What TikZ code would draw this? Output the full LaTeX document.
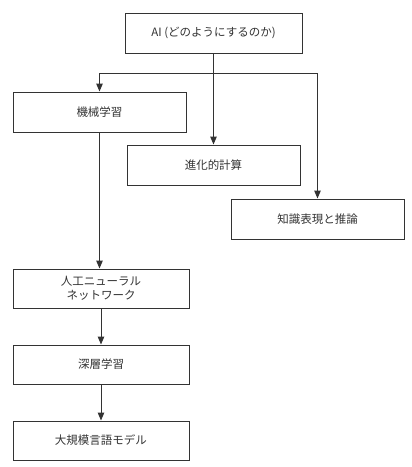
\documentclass[tikz,border=0pt]{standalone}
\usepackage{fontspec}
\newfontfamily\jpfont{Noto Sans CJK JP}
\usepackage{xcolor}
\usepackage{tikz}
\usetikzlibrary{arrows.meta, positioning}
\definecolor{inkgray}{HTML}{333333}
\tikzset{
  box/.style ={rectangle, draw=black!80, line width=1pt, fill=white,
               minimum height=40pt, minimum width=173pt, align=center,
               inner sep=2pt, text=inkgray,
               font=\jpfont\fontsize{11.5}{14}\selectfont},
  ar/.style  ={-{Triangle[length=8pt, width=6.5pt]}, line width=1pt, inkgray}
}

\begin{document}
\begin{tikzpicture}[x=1pt, y=-1pt]
\useasboundingbox (0,0) rectangle (412,467);

\node[box, minimum width=177pt] (ai) at (213.5,33) {AI (どのようにするのか)};
\node[box] (ml)  at (99.5,112)  {機械学習};
\node[box] (evo) at (213.5,165) {進化的計算};
\node[box] (kr)  at (317.5,219) {知識表現と推論};

\node[box, minimum width=176pt, minimum height=39pt] (ann) at (101,288.5)
      {人工ニューラル\\ネットワーク};
\node[box, minimum width=176pt, minimum height=39pt, below=36pt of ann] (dl)
      {深層学習};
\node[box, minimum width=176pt, minimum height=39pt, below=36pt of dl] (llm)
      {大規模言語モデル};

% branch point under the root
\coordinate (split) at (213.5,73);

\draw[ar] (ai) -- (evo);
\draw[ar] (split) -| (ml);
\draw[ar] (split) -| (kr);
\draw[ar] (ml) -- (ml |- ann.north);
\draw[ar] (ann) -- (dl);
\draw[ar] (dl) -- (llm);

\end{tikzpicture}
\end{document}
